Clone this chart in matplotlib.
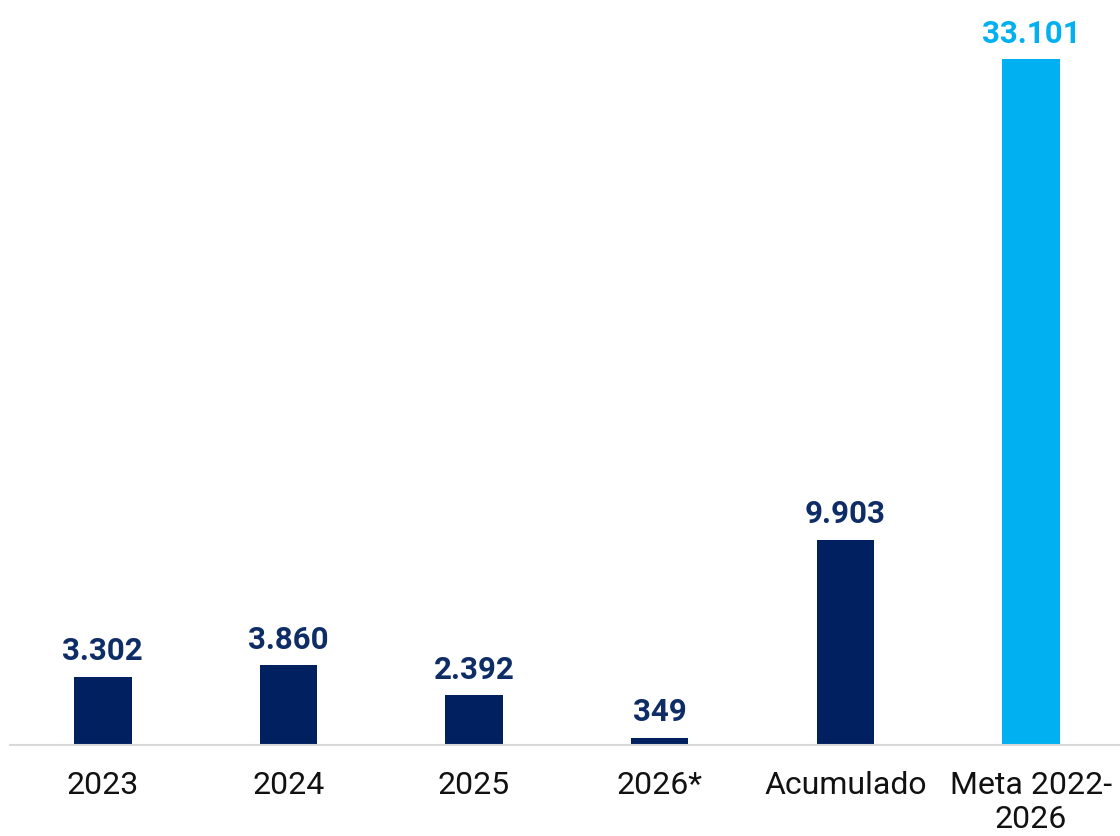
import matplotlib
matplotlib.use("Agg")
import matplotlib.pyplot as plt

categories = ["2023", "2024", "2025", "2026*", "Acumulado", "Meta 2022-\n2026"]
values = [3302, 3860, 2392, 349, 9903, 33101]
value_labels = ["3.302", "3.860", "2.392", "349", "9.903", "33.101"]
bar_colors = ["#002060", "#002060", "#002060", "#002060", "#002060", "#00B0F0"]
label_colors = ["#0E2C66", "#0E2C66", "#0E2C66", "#0E2C66", "#0E2C66", "#00B0F0"]

plt.rcParams['font.family'] = ['Roboto', 'DejaVu Sans']

fig = plt.figure(figsize=(11.2, 8.36), dpi=100)
ax = fig.add_axes([10/1120, 91/836, 1 - 10/1120, 1 - 91/836])

x = list(range(len(categories)))
ax.bar(x, values, width=0.31, color=bar_colors, zorder=2)
ax.set_xlim(-0.5, 5.48)
ax.set_ylim(0, 35950)

for xi, v, lab, c in zip(x, values, value_labels, label_colors):
    ax.annotate(lab, (xi, v), xytext=(0, 7.5), textcoords="offset points",
                ha="center", va="bottom", fontsize=22.5, fontweight="bold", color=c)

ax.set_xticks(x)
ax.set_xticklabels(categories, fontsize=23, color="#111111", linespacing=1.2)
ax.tick_params(axis="x", length=0, pad=19)
ax.set_yticks([])
for s in ["top", "right", "left"]:
    ax.spines[s].set_visible(False)
ax.spines["bottom"].set_color("#D9D9D9")
ax.spines["bottom"].set_linewidth(1.5)

fig.savefig("out.png", dpi=100)
